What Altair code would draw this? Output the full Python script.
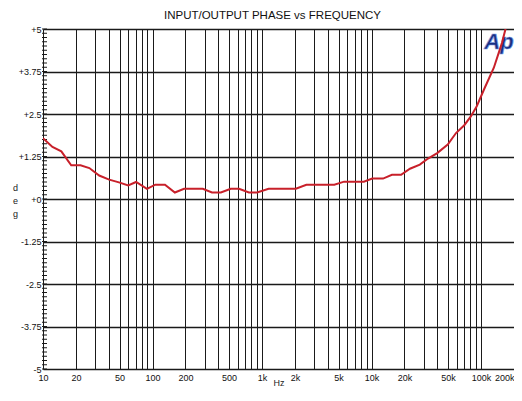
import altair as alt
import pandas as pd
import numpy as np

# ---- data ----
freq = [10, 12.2, 14.7, 18.1, 22, 26.5, 32.6, 40.2, 49.4, 60, 70.8, 89, 106, 130, 160,
        194, 234, 288, 349, 421, 518, 617, 759, 902, 1148, 2037, 2541, 4571, 5620,
        8511, 10140, 12740, 15360, 18620, 22440, 27600, 32800, 39800, 49650, 59100,
        70300, 80700, 91400, 106400, 130900, 155600, 178600, 195000]
phase = [1.79, 1.53, 1.40, 0.99, 0.99, 0.91, 0.69, 0.57, 0.49, 0.40, 0.50, 0.30, 0.42, 0.42, 0.19,
         0.30, 0.30, 0.30, 0.19, 0.19, 0.30, 0.30, 0.19, 0.19, 0.30, 0.30, 0.42, 0.42, 0.51,
         0.51, 0.60, 0.60, 0.71, 0.71, 0.89, 1.01, 1.19, 1.35, 1.60, 1.94,
         2.17, 2.43, 2.73, 3.22, 3.86, 4.60, 5.36, 5.90]

x_grid = [10, 20, 30, 40, 50, 60, 70, 80, 90,
          100, 200, 300, 400, 500, 600, 700, 800, 900,
          1000, 2000, 3000, 4000, 5000, 6000, 7000, 8000, 9000,
          10000, 20000, 30000, 40000, 50000, 60000, 70000, 80000, 90000,
          100000, 200000]
x_labels = {10: "10", 20: "20", 50: "50", 100: "100", 200: "200", 500: "500",
            1000: "1k", 2000: "2k", 5000: "5k", 10000: "10k", 20000: "20k",
            50000: "50k", 100000: "100k", 200000: "200k"}
y_ticks = [-5, -3.75, -2.5, -1.25, 0, 1.25, 2.5, 3.75, 5]
y_labels = {5: "+5", 3.75: "+3.75", 2.5: "+2.5", 1.25: "+1.25", 0: "+0",
            -1.25: "-1.25", -2.5: "-2.5", -3.75: "-3.75", -5: "-5"}
title_text = "INPUT/OUTPUT PHASE vs FREQUENCY"

minor = np.round(np.arange(-5, 5.0001, 0.125), 4)

df = pd.DataFrame({"f": freq, "p": phase})
df_minor = pd.DataFrame({"t": minor})

FONT = "Liberation Sans"

x_expr = " : ".join([f"datum.value == {k} ? '{v}'" for k, v in x_labels.items()]) + " : ''"
y_expr = " : ".join([f"datum.value == {k} ? '{v}'" for k, v in y_labels.items()]) + " : ''"

xscale = alt.Scale(type="log", domain=[10, 200000], nice=False)
yscale = alt.Scale(domain=[-5, 5], nice=False, zero=False)

xaxis = alt.Axis(values=x_grid, labelExpr=x_expr, grid=True, gridColor="#1a1a1a",
                 gridWidth=1, gridOpacity=1, ticks=False, domain=False,
                 labelFont=FONT, labelFontSize=9, labelColor="#111111",
                 labelPadding=4, labelOverlap=False,
                 labelAlign={"condition": {"test": "datum.value >= 200000", "value": "right"},
                             "value": "center"},
                 title="Hz", titleFont=FONT, titleFontSize=9, titleFontWeight="normal",
                 titleColor="#222222", titleBaseline="alphabetic", titleY=16)
yaxis = alt.Axis(values=y_ticks, labelExpr=y_expr, grid=True, gridColor="#1a1a1a",
                 gridWidth=1.3, gridOpacity=1, ticks=False, domain=False,
                 labelFont=FONT, labelFontSize=9, labelColor="#111111",
                 labelPadding=2, labelOverlap=False,
                 title=["d", "e", "g"], titleAngle=0, titleFont=FONT, titleFontSize=9,
                 titleFontWeight="normal", titleColor="#222222", titleAlign="center",
                 titleBaseline="middle", titleX=-28, titleY=158, titleLineHeight=13)

line = alt.Chart(df).mark_line(color="#c8202a", strokeWidth=2, clip=True).encode(
    x=alt.X("f:Q", scale=xscale, axis=xaxis),
    y=alt.Y("p:Q", scale=yscale, axis=yaxis),
)

ticks = alt.Chart(df_minor).mark_rule(color="#1a1a1a", strokeWidth=1).encode(
    y=alt.Y("t:Q", scale=yscale),
    x=alt.value(-1),
    x2=alt.value(4),
)

logo = alt.Chart(pd.DataFrame({"s": ["Ap"]})).mark_text(
    font=FONT, fontSize=22, fontWeight="bold", fontStyle="italic",
    color="#1a2f80", stroke="#7f9be0", strokeWidth=0.7, align="center", baseline="middle"
).encode(text="s:N", x=alt.value(456), y=alt.value(13))

title = alt.Chart(pd.DataFrame({"s": [title_text]})).mark_text(
    font=FONT, fontSize=11.5, color="#111111", align="center", baseline="alphabetic"
).encode(text="s:N", x=alt.value(229.5), y=alt.value(-10))

chart = alt.layer(ticks, logo, line, title).properties(
    width=471, height=340,
    autosize=alt.AutoSizeParams(type="none"),
    padding={"left": 35, "top": 21, "right": 0, "bottom": 17},
).configure_view(stroke="#111111", strokeWidth=1.5).configure(background="white")

chart.save("out.html", embed_options={"renderer": "svg", "actions": False})
